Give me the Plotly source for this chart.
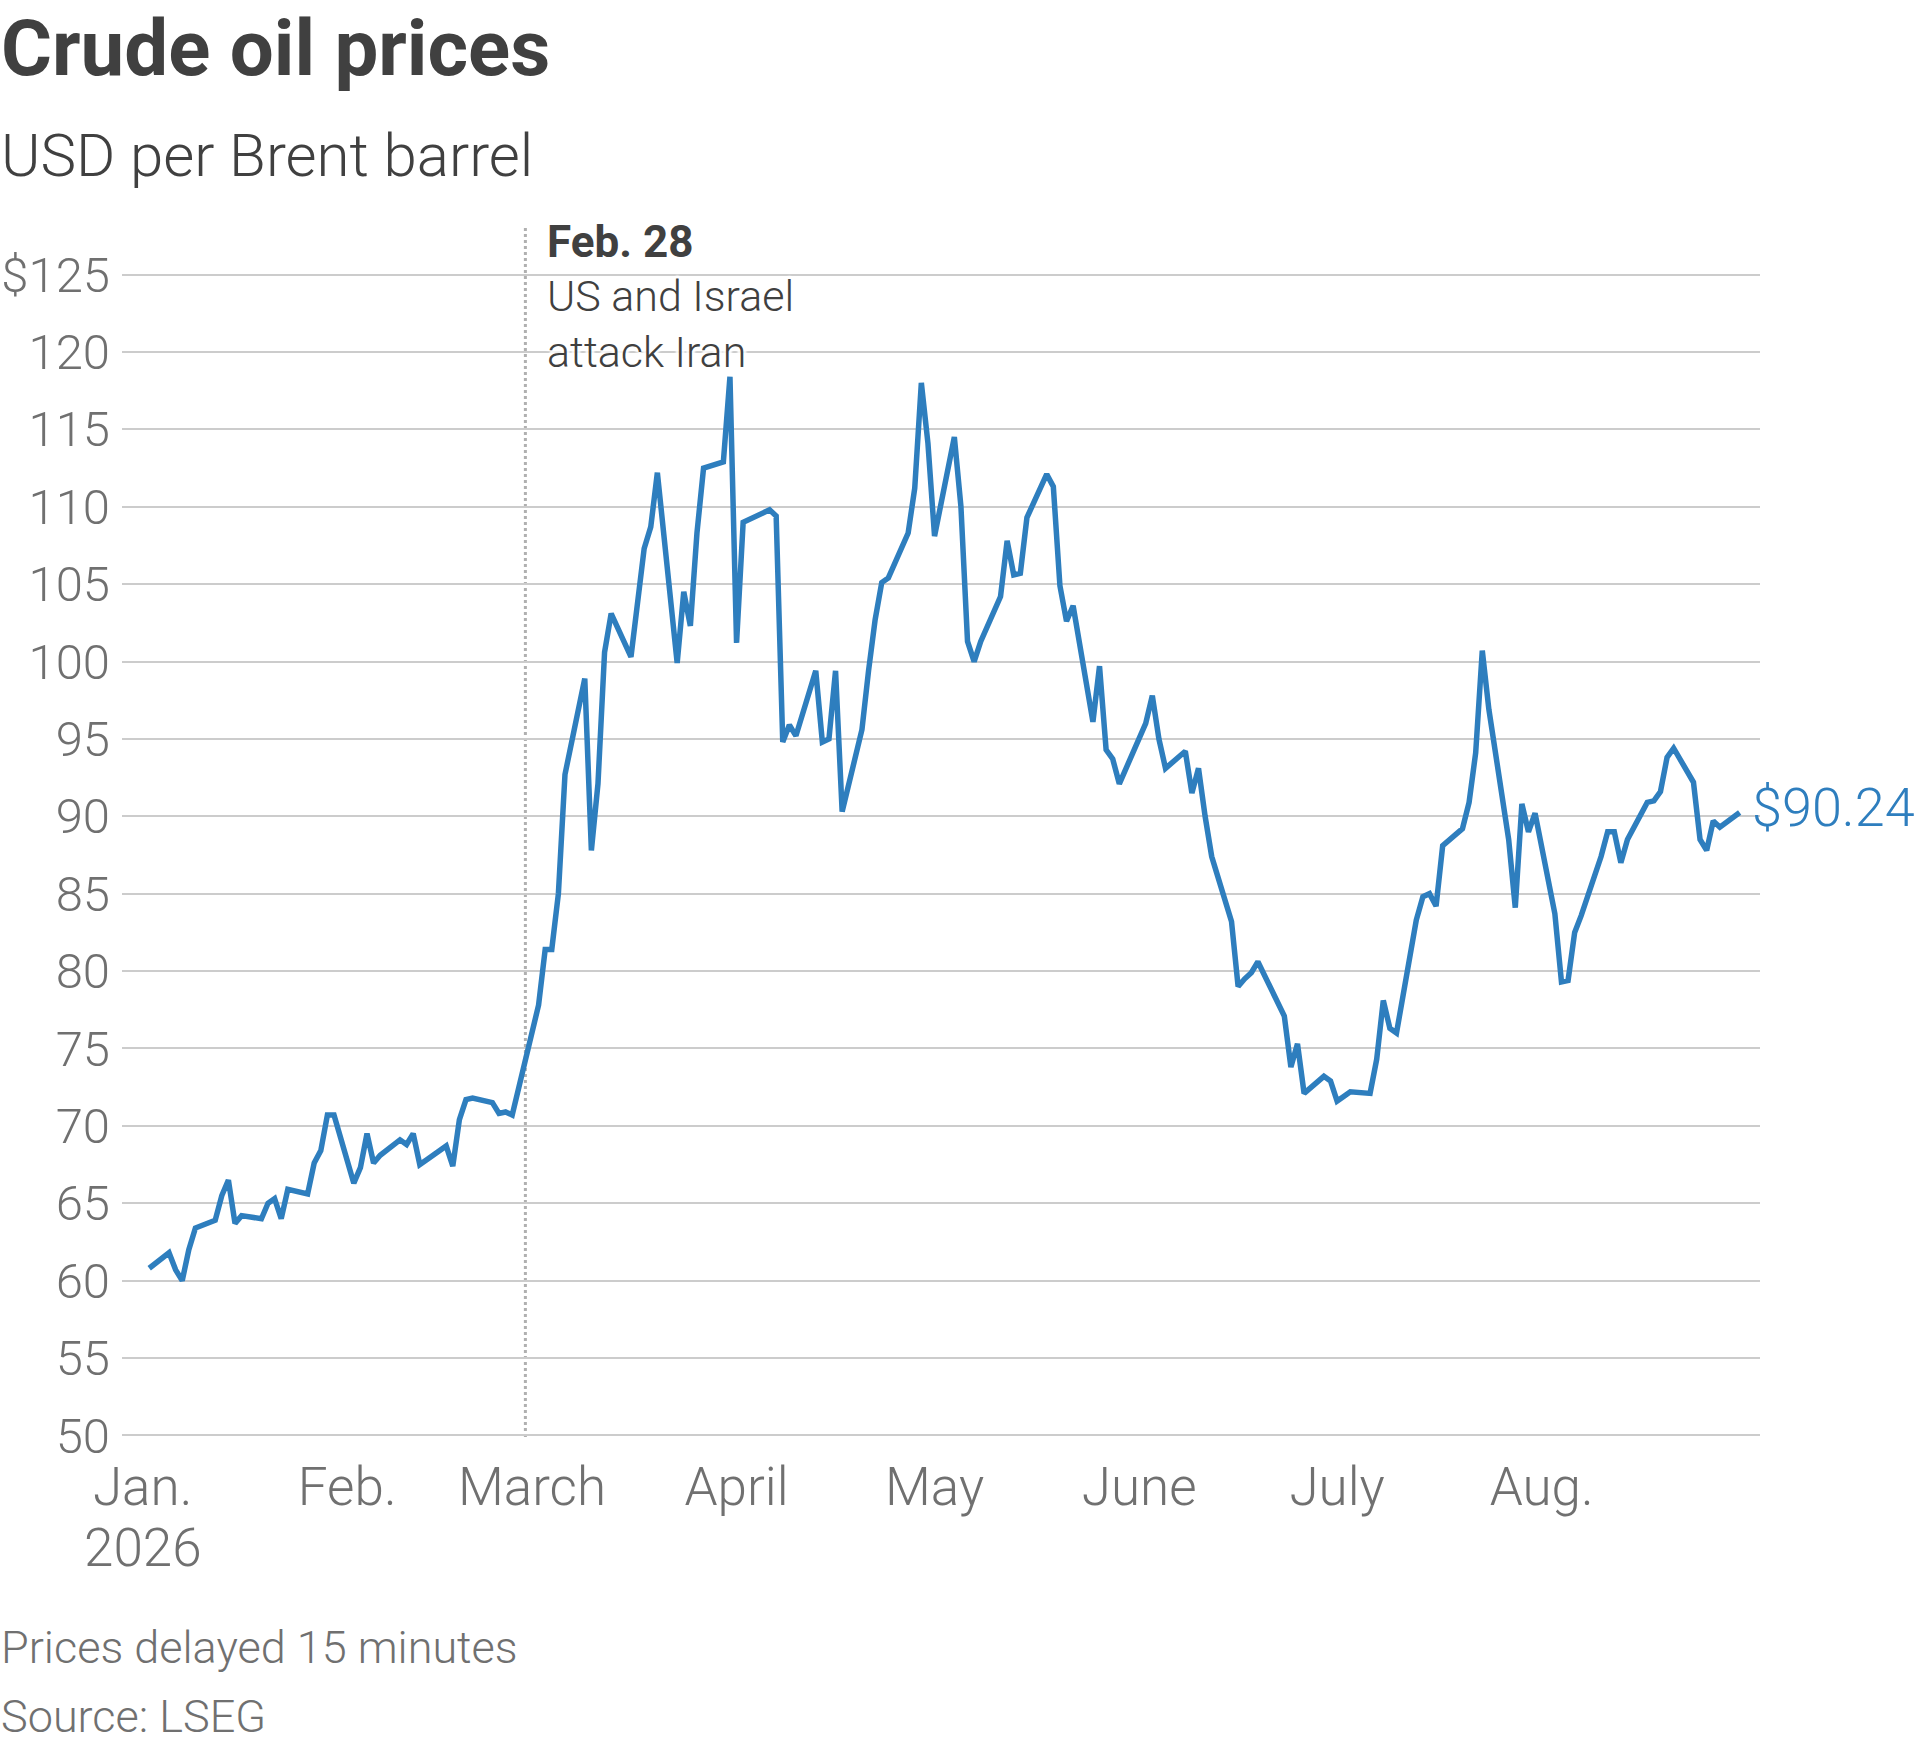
import plotly.graph_objects as go

# Brent close (USD per barrel)
dates = [
    "2026-01-02", "2026-01-05", "2026-01-06", "2026-01-07", "2026-01-08", "2026-01-09",
    "2026-01-12", "2026-01-13", "2026-01-14", "2026-01-15", "2026-01-16",
    "2026-01-19", "2026-01-20", "2026-01-21", "2026-01-22", "2026-01-23",
    "2026-01-26", "2026-01-27", "2026-01-28", "2026-01-29", "2026-01-30",
    "2026-02-02", "2026-02-03", "2026-02-04", "2026-02-05", "2026-02-06",
    "2026-02-09", "2026-02-10", "2026-02-11", "2026-02-12", "2026-02-13",
    "2026-02-16", "2026-02-17", "2026-02-18", "2026-02-19", "2026-02-20",
    "2026-02-23", "2026-02-24", "2026-02-25", "2026-02-26",
    "2026-03-02", "2026-03-03", "2026-03-04", "2026-03-05", "2026-03-06",
    "2026-03-09", "2026-03-10", "2026-03-11", "2026-03-12", "2026-03-13",
    "2026-03-16", "2026-03-17", "2026-03-18", "2026-03-19", "2026-03-20",
    "2026-03-23", "2026-03-24", "2026-03-25", "2026-03-26", "2026-03-27",
    "2026-03-30", "2026-03-31", "2026-04-01", "2026-04-02",
    "2026-04-06", "2026-04-07", "2026-04-08", "2026-04-09", "2026-04-10",
    "2026-04-13", "2026-04-14", "2026-04-15", "2026-04-16", "2026-04-17",
    "2026-04-20", "2026-04-21", "2026-04-22", "2026-04-23", "2026-04-24",
    "2026-04-27", "2026-04-28", "2026-04-29", "2026-04-30", "2026-05-01",
    "2026-05-04", "2026-05-05", "2026-05-06", "2026-05-07", "2026-05-08",
    "2026-05-11", "2026-05-12", "2026-05-13", "2026-05-14", "2026-05-15",
    "2026-05-18", "2026-05-19", "2026-05-20", "2026-05-21", "2026-05-22",
    "2026-05-25", "2026-05-26", "2026-05-27", "2026-05-28", "2026-05-29",
    "2026-06-02", "2026-06-03", "2026-06-04", "2026-06-05",
    "2026-06-08", "2026-06-09", "2026-06-10", "2026-06-11", "2026-06-12",
    "2026-06-15", "2026-06-16", "2026-06-17", "2026-06-18", "2026-06-19",
    "2026-06-23", "2026-06-24", "2026-06-25", "2026-06-26",
    "2026-06-29", "2026-06-30", "2026-07-01", "2026-07-02", "2026-07-03",
    "2026-07-06", "2026-07-07", "2026-07-08", "2026-07-09", "2026-07-10",
    "2026-07-13", "2026-07-14", "2026-07-15", "2026-07-16", "2026-07-17",
    "2026-07-20", "2026-07-21", "2026-07-22", "2026-07-23", "2026-07-24",
    "2026-07-27", "2026-07-28", "2026-07-29", "2026-07-30", "2026-07-31",
    "2026-08-03", "2026-08-04", "2026-08-05", "2026-08-06", "2026-08-07",
    "2026-08-10", "2026-08-11", "2026-08-12", "2026-08-13", "2026-08-14",
    "2026-08-17", "2026-08-18", "2026-08-19", "2026-08-20", "2026-08-21",
    "2026-08-24", "2026-08-25", "2026-08-26", "2026-08-27", "2026-08-28",
    "2026-08-31",
]

brent = [
    60.8, 61.8, 60.7, 60.0, 62.0, 63.4,
    63.9, 65.5, 66.5, 63.7, 64.2,
    64.0, 65.0, 65.3, 64.0, 65.9,
    65.6, 67.6, 68.4, 70.7, 70.7,
    66.3, 67.3, 69.5, 67.6, 68.1,
    69.1, 68.8, 69.5, 67.5, 67.8,
    68.7, 67.4, 70.4, 71.7, 71.8,
    71.5, 70.8, 70.9, 70.7,
    77.8, 81.4, 81.4, 85.0, 92.7,
    98.9, 87.8, 92.1, 100.6, 103.1,
    100.3, 103.9, 107.3, 108.7, 112.2,
    99.9, 104.5, 102.3, 108.3, 112.5,
    112.9, 118.4, 101.2, 109.0,
    109.8, 109.4, 94.8, 95.9, 95.2,
    99.4, 94.8, 95.0, 99.4, 90.3,
    95.6, 99.4, 102.7, 105.1, 105.4,
    108.3, 111.2, 118.0, 114.1, 108.1,
    114.5, 110.0, 101.3, 100.0, 101.3,
    104.2, 107.8, 105.6, 105.7, 109.3,
    112.1, 111.3, 104.9, 102.6, 103.6,
    96.1, 99.7, 94.3, 93.7, 92.1,
    96.0, 97.8, 95.0, 93.1,
    94.2, 91.5, 93.1, 90.0, 87.4,
    83.2, 79.0, 79.5, 79.9, 80.6,
    77.1, 73.8, 75.3, 72.1,
    73.2, 72.9, 71.6, 71.9, 72.2,
    72.1, 74.3, 78.1, 76.3, 76.0,
    83.3, 84.8, 85.0, 84.2, 88.1,
    89.2, 90.9, 94.1, 100.7, 96.9,
    88.5, 84.1, 90.8, 89.0, 90.2,
    83.7, 79.3, 79.4, 82.5, 83.6,
    87.4, 89.0, 89.0, 87.0, 88.5,
    90.9, 91.0, 91.6, 93.8, 94.4,
    92.2, 88.5, 87.8, 89.7, 89.3,
    90.24,
]

month_ticks = ["2026-01-01", "2026-02-01", "2026-03-01", "2026-04-01",
               "2026-05-01", "2026-06-01", "2026-07-01", "2026-08-01"]
month_labels = ["Jan.", "Feb.", "March", "April", "May", "June", "July", "Aug."]
YEAR_LABEL = "2026"

price_ticks = list(range(50, 126, 5))
price_labels = [str(v) for v in price_ticks[:-1]] + ["$125"]

EVENT_DATE = "2026-02-28"
EVENT_TITLE = "Feb. 28"
EVENT_TEXT = "US and Israel<br>attack Iran"

BLUE = "#2e7ebe"
DARK = "#404040"
GREY = "#707070"
FONT = "Roboto, 'Noto Sans', Arial, sans-serif"

W, H = 1920, 1747
# plot box in page pixels (y range padded a hair so the $125 grid line is drawn)
L, R, T, B = 122, 1760, 273, 1437


def paper_x(px):
    return (px - L) / (R - L)


def paper_y(py):
    return (B - py) / (B - T)


fig = go.Figure()
fig.add_trace(go.Scatter(
    x=dates, y=brent, mode="lines",
    line=dict(color=BLUE, width=5.5, shape="linear"),
    hoverinfo="x+y", showlegend=False,
))

fig.add_shape(
    type="line", xref="x", yref="paper",
    x0=EVENT_DATE, x1=EVENT_DATE, y0=0, y1=paper_y(228),
    line=dict(color="#b0b0b0", width=3, dash="dot"),
    layer="below",
)

halo = "3px 0 2px white, -3px 0 2px white, 0 3px 2px white, 0 -3px 2px white"
annotations = [
    dict(text="Crude oil prices", x=paper_x(-1), y=paper_y(48),
         font=dict(size=78, color=DARK, family=FONT, weight=700)),
    dict(text="USD per Brent barrel", x=paper_x(-1), y=paper_y(156),
         font=dict(size=60, color=DARK, family=FONT, weight=300)),
    dict(text=EVENT_TITLE, x=paper_x(545), y=paper_y(242),
         font=dict(size=44, color=DARK, family=FONT, weight=700, shadow=halo)),
    dict(text=EVENT_TEXT, x=paper_x(545), y=paper_y(324),
         font=dict(size=43, color=DARK, family=FONT, weight=300, shadow=halo)),
    dict(text="Prices delayed 15 minutes", x=paper_x(-1), y=paper_y(1647),
         font=dict(size=45, color=GREY, family=FONT, weight=300)),
    dict(text="Source: LSEG", x=paper_x(-1), y=paper_y(1716),
         font=dict(size=45, color=GREY, family=FONT, weight=300)),
]
for a in annotations:
    a.update(xref="paper", yref="paper", xanchor="left", yanchor="middle",
             showarrow=False, align="left")
    fig.add_annotation(**a)

# year under the first month label
fig.add_annotation(
    x=month_ticks[0], y=paper_y(1548), xref="x", yref="paper",
    text=YEAR_LABEL, showarrow=False, xanchor="center", yanchor="middle",
    font=dict(size=53, color=GREY, family=FONT, weight=300),
)

# closing price label next to the line end
fig.add_annotation(
    x=dates[-1], y=brent[-1], xref="x", yref="y",
    text=f"${brent[-1]:.2f}", showarrow=False,
    xanchor="left", yanchor="middle", xshift=10, yshift=5,
    font=dict(size=54, color=BLUE, family=FONT, weight=300),
)

fig.update_layout(
    width=W, height=H,
    margin=dict(l=L, r=W - R, t=T, b=H - B, pad=0),
    paper_bgcolor="white", plot_bgcolor="white",
    font=dict(family=FONT, color=GREY),
    xaxis=dict(
        type="date",
        range=["2025-12-28 21:00", "2026-09-03 02:00"],
        tickvals=month_ticks, ticktext=month_labels,
        showgrid=False, zeroline=False, showline=False, ticks="",
        ticklabelstandoff=14,
        tickfont=dict(size=53, color=GREY, family=FONT, weight=300),
        automargin=False, fixedrange=True,
    ),
    yaxis=dict(
        range=[49.9, 125.1],
        tickvals=price_ticks, ticktext=price_labels,
        showgrid=True, gridcolor="#cccccc", gridwidth=2,
        zeroline=False, showline=False, ticks="",
        ticklabelstandoff=11,
        tickfont=dict(size=49, color=GREY, family=FONT, weight=300),
        automargin=False, fixedrange=True,
    ),
)

# drop the default 8px body margin so the figure sits at the page corner
fig.write_html(
    "out.html",
    config={"displayModeBar": False, "staticPlot": True},
    post_script="document.body.style.margin = '0';",
)
